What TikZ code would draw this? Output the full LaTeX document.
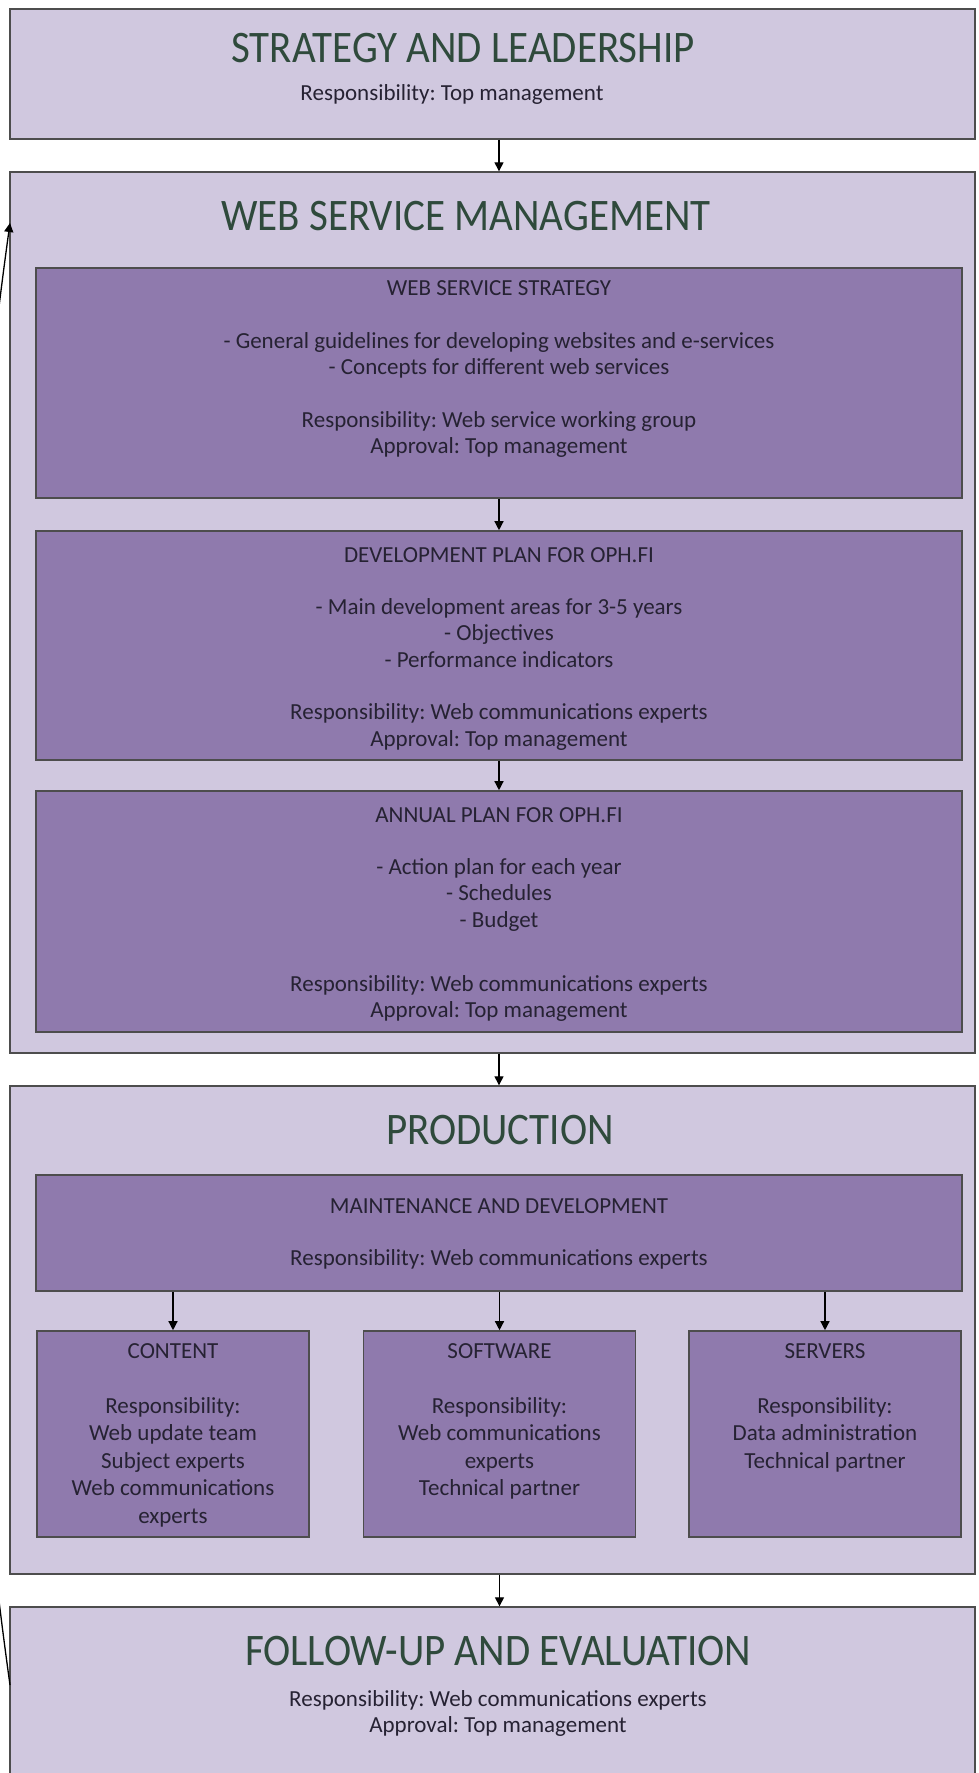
\documentclass[tikz,border=0pt]{standalone}
\usepackage{fontspec}
\setmainfont{Carlito}
\usetikzlibrary{arrows.meta}
\frenchspacing

\definecolor{outerfill}{HTML}{D0C8DF}
\definecolor{innerfill}{HTML}{8F7AAD}
\definecolor{boxline}{HTML}{4D4D4D}
\definecolor{titlecol}{HTML}{2F4A3C}
\definecolor{textcol}{HTML}{262233}

\newcommand{\bodyfont}{\fontsize{23}{26.3}\selectfont}
\newcommand{\subfont}{\fontsize{23}{27.5}\selectfont}
\newcommand{\headfont}{\fontsize{41}{49}\selectfont}
\newcommand{\headtext}[1]{\scalebox{1}[1.1]{#1}}

\tikzset{
    outerbox/.style={draw=boxline, fill=outerfill, line width=1.4pt},
    innerbox/.style={draw=boxline, fill=innerfill, line width=1.6pt},
    headtxt/.style={anchor=base, inner sep=0pt, font=\headfont, text=titlecol},
    bodytxt/.style={anchor=north, inner sep=0pt, align=center, font=\bodyfont, text=textcol},
    subtxt/.style={bodytxt, font=\subfont},
    flow/.style={->, line width=1.3pt}
}

\begin{document}
\begin{tikzpicture}[x=1pt, y=-1pt, >={Triangle[length=9pt, width=9pt]}]
        \useasboundingbox (0,0) rectangle (978,1773);
        \clip (0,0) rectangle (978,1773);

        % --- Draw strategy and leadership ---
        \node[outerbox, minimum width=965pt, minimum height=130pt] (sl) at (492.5,74) {};
        \node[headtxt] (sltitle) at (463,62) {\headtext{STRATEGY AND LEADERSHIP}};
        \node[bodytxt] (slresp) at (452,81.6) {\strut Responsibility: Top management};
        % ---

        % --- Draw web service management and its plans ---
        \node[outerbox, minimum width=965pt, minimum height=881pt] (wsm) at (492.5,612.5) {};
        \node[headtxt] (wsmtitle) at (466,230) {\headtext{WEB SERVICE MANAGEMENT}};

        \node[innerbox, minimum width=926pt, minimum height=230pt] (wss) at (499,383) {};
        \node[bodytxt] (wsstext) at (499,276.6) {\strut WEB SERVICE STRATEGY\\[26.5pt]
            - General guidelines for developing websites and e-services\\
            - Concepts for different web services\\[26.5pt]
            Responsibility: Web service working group\\
            Approval: Top management};

        \node[innerbox, minimum width=926pt, minimum height=229pt] (dev) at (499,645.5) {};
        \node[bodytxt] (devtext) at (499,543.6) {\strut DEVELOPMENT PLAN FOR OPH.FI\\[26pt]
            - Main development areas for 3-5 years\\
            - Objectives\\
            - Performance indicators\\[26.5pt]
            Responsibility: Web communications experts\\
            Approval: Top management};

        \node[innerbox, minimum width=926pt, minimum height=241pt] (ann) at (499,911.5) {};
        \node[bodytxt] (anntext) at (499,803.6) {\strut ANNUAL PLAN FOR OPH.FI\\[26pt]
            - Action plan for each year\\
            - Schedules\\
            - Budget\\[38pt]
            Responsibility: Web communications experts\\
            Approval: Top management};

        \draw[flow] (sl.south -| wss.north) -- (wsm.north -| wss.north);
        \draw[flow] (wss) -- (dev);
        \draw[flow] (dev) -- (ann);
        % ---

        % --- Draw production ---
        \node[outerbox, minimum width=965pt, minimum height=488pt] (prod) at (492.5,1330) {};
        \node[headtxt] (prodtitle) at (500,1144) {\headtext{PRODUCTION}};

        \node[innerbox, minimum width=926pt, minimum height=116pt] (maint) at (499,1233) {};
        \node[bodytxt] (mainttext) at (499,1194.6) {\strut MAINTENANCE AND DEVELOPMENT\\[25.7pt]
            Responsibility: Web communications experts};

        \node[innerbox, minimum width=272pt, minimum height=206pt] (content) at (173,1434) {};
        \node[subtxt] (contenttext) at (173,1338.8) {\strut CONTENT\\[27.5pt]
            Responsibility:\\ Web update team\\ Subject experts\\ Web communications\\ experts};

        \node[innerbox, minimum width=272pt, minimum height=206pt] (software) at (499.5,1434) {};
        \node[subtxt] (softwaretext) at (499.5,1338.8) {\strut SOFTWARE\\[27.5pt]
            Responsibility:\\ Web communications\\ experts\\ Technical partner};

        \node[innerbox, minimum width=272pt, minimum height=206pt] (servers) at (825,1434) {};
        \node[subtxt] (serverstext) at (825,1338.8) {\strut SERVERS\\[27.5pt]
            Responsibility:\\ Data administration\\ Technical partner};

        \draw[flow] (wsm.south -| ann.south) -- (prod.north -| ann.south);
        \draw[flow] (maint.south -| content.north) -- (content.north);
        \draw[flow] (maint.south -| software.north) -- (software.north);
        \draw[flow] (maint.south -| servers.north) -- (servers.north);
        % ---

        % --- Draw follow-up and the way back ---
        \node[outerbox, minimum width=965pt, minimum height=200pt] (fu) at (492.5,1707) {};
        \node[headtxt] (futitle) at (498,1665) {\headtext{FOLLOW-UP AND EVALUATION}};
        \node[bodytxt] (futext) at (498,1687.6) {\strut Responsibility: Web communications experts\\
            Approval: Top management};

        \draw[flow] (prod.south -| software.north) -- (fu.north -| software.north);

        \coordinate (backout) at (10,1685);
        \coordinate (backin) at (10,223);
        \draw[flow] (backout) .. controls (-58,1194) and (-58,716) .. (backin);
        % ---
    \end{tikzpicture}
\end{document}
